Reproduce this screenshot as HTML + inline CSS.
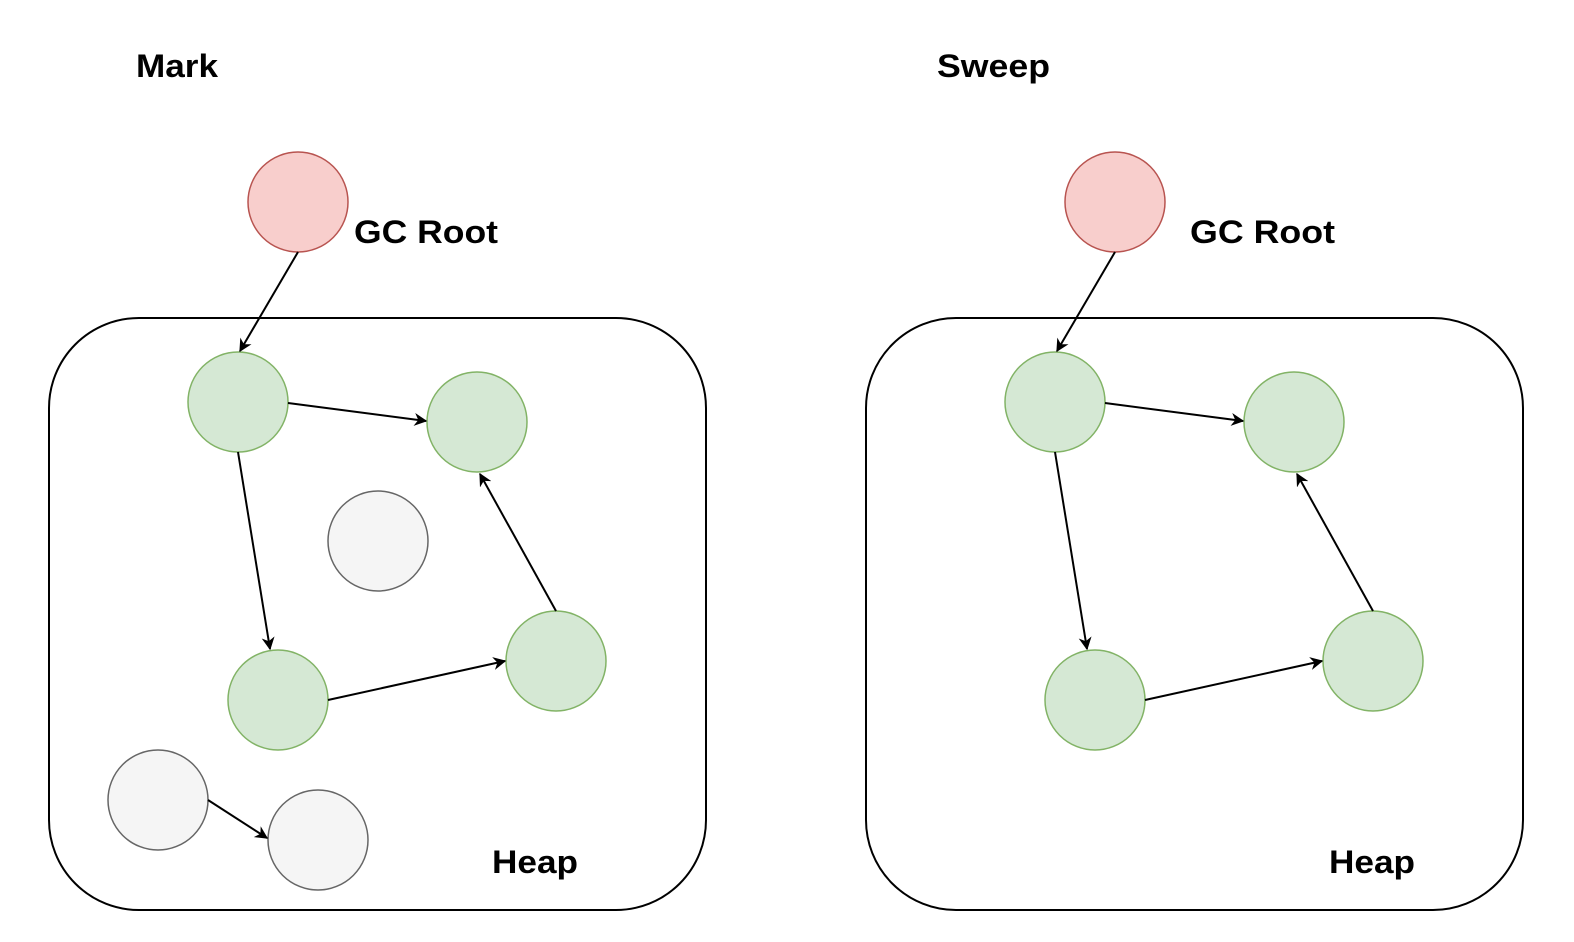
<!DOCTYPE html>
<html><head><meta charset="utf-8"><style>
html,body{margin:0;padding:0;background:#fff;}
svg{display:block;}
text{font-family:"Liberation Sans",Arial,sans-serif;font-weight:bold;fill:#000;}
</style></head><body>
<svg width="1574" height="942" viewBox="0 0 1574 942" xmlns="http://www.w3.org/2000/svg">
<defs>
<marker id="ar" viewBox="0 0 10 10" refX="9" refY="5" markerWidth="13" markerHeight="13" markerUnits="userSpaceOnUse" orient="auto">
<path d="M0,0 L10,5 L0,10 L3,5 Z" fill="#000"/>
</marker>
</defs>
<g id="left">
<text x="136" y="77" font-size="32" textLength="82" lengthAdjust="spacingAndGlyphs">Mark</text>
<rect x="49" y="318" width="657" height="592" rx="90" ry="90" fill="#fff" stroke="#000" stroke-width="2"/>
<circle cx="298" cy="202" r="50" fill="#f8cecc" stroke="#b85450" stroke-width="1.5"/>
<text x="354" y="243" font-size="32" textLength="144" lengthAdjust="spacingAndGlyphs">GC Root</text>
<text x="492" y="873" font-size="32" textLength="86" lengthAdjust="spacingAndGlyphs">Heap</text>
<g fill="#d5e8d4" stroke="#82b366" stroke-width="1.5">
<circle cx="238" cy="402" r="50"/><circle cx="477" cy="422" r="50"/>
<circle cx="278" cy="700" r="50"/><circle cx="556" cy="661" r="50"/>
</g>
<g fill="#f5f5f5" stroke="#666" stroke-width="1.5">
<circle cx="378" cy="541" r="50"/><circle cx="158" cy="800" r="50"/><circle cx="318" cy="840" r="50"/>
</g>
<g stroke="#000" stroke-width="2" marker-end="url(#ar)">
<line x1="298" y1="252" x2="240" y2="351"/>
<line x1="288" y1="403" x2="426" y2="421"/>
<line x1="238" y1="452" x2="270" y2="649"/>
<line x1="328" y1="700" x2="505" y2="661"/>
<line x1="556" y1="611" x2="480" y2="474"/>
<line x1="208" y1="800" x2="267" y2="838"/>
</g>
</g>
<g id="right">
<text x="937" y="77" font-size="32" textLength="113" lengthAdjust="spacingAndGlyphs">Sweep</text>
<rect x="866" y="318" width="657" height="592" rx="90" ry="90" fill="#fff" stroke="#000" stroke-width="2"/>
<circle cx="1115" cy="202" r="50" fill="#f8cecc" stroke="#b85450" stroke-width="1.5"/>
<text x="1190" y="243" font-size="32" textLength="145" lengthAdjust="spacingAndGlyphs">GC Root</text>
<text x="1329" y="873" font-size="32" textLength="86" lengthAdjust="spacingAndGlyphs">Heap</text>
<g fill="#d5e8d4" stroke="#82b366" stroke-width="1.5">
<circle cx="1055" cy="402" r="50"/><circle cx="1294" cy="422" r="50"/>
<circle cx="1095" cy="700" r="50"/><circle cx="1373" cy="661" r="50"/>
</g>
<g stroke="#000" stroke-width="2" marker-end="url(#ar)">
<line x1="1115" y1="252" x2="1057" y2="351"/>
<line x1="1105" y1="403" x2="1243" y2="421"/>
<line x1="1055" y1="452" x2="1087" y2="649"/>
<line x1="1145" y1="700" x2="1322" y2="661"/>
<line x1="1373" y1="611" x2="1297" y2="474"/>
</g>
</g>
</svg>
</body></html>
